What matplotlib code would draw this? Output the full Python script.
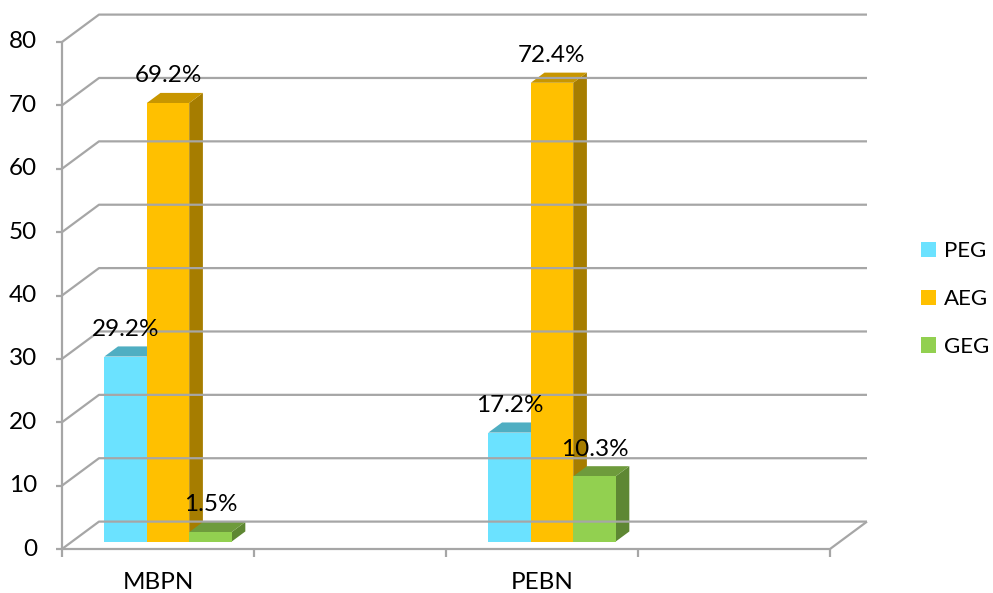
import matplotlib.pyplot as plt
from matplotlib.patches import Polygon, Patch

categories = ["MBPN", "PEBN"]
series = ["PEG", "AEG", "GEG"]
values = {
    "PEG": [29.2, 17.2],
    "AEG": [69.2, 72.4],
    "GEG": [1.5, 10.3],
}
y_ticks = [0, 10, 20, 30, 40, 50, 60, 70, 80]

# front face / top / side colours for each series
colors = {
    "PEG": ("#6BE2FF", "#4FAEC2", "#3F93A6"),
    "AEG": ("#FFC000", "#C89600", "#A67D00"),
    "GEG": ("#92D050", "#6E9B3C", "#5E8733"),
}

plt.rcParams["font.family"] = ["Lato", "DejaVu Sans"]
FS = 17.5
GRID = "#A6A6A6"

fig = plt.figure(figsize=(9.93, 5.93), dpi=100)
# front plane of the 3D box: four category slots wide, 0..80 tall
ax = fig.add_axes([62 / 993, 44 / 593, 768 / 993, 507 / 593])
ax.set_xlim(0, 4)
ax.set_ylim(0, 80)
ax.axis("off")

n_slots = 4
DX, DY = 37 / 192, 27.4 * 80 / 507   # depth offset of the back wall
f0, fd = 0.27, 0.37                  # bar front depth and bar depth (fractions)
bar_w = 0.221
slot_pos = [0.5, 2.5]


def line(xs, ys, **kw):
    ax.plot(xs, ys, color=GRID, lw=1.6, solid_capstyle="butt",
            clip_on=False, **kw)


# walls and gridlines
for v in y_ticks:
    line([0, DX, n_slots + DX], [v, v + DY, v + DY])
    line([-6 / 192, 0], [v, v])
line([0, 0], [0, y_ticks[-1]])
line([0, n_slots, n_slots + DX], [0, 0, DY])
for i in range(n_slots + 1):
    line([i, i], [0, -8 * 80 / 507])

for v in y_ticks:
    ax.text(-0.13, v, str(v), ha="right", va="center", fontsize=FS,
            clip_on=False)
for pos, cat in zip(slot_pos, categories):
    ax.text(pos, -5.3, cat, ha="center", va="center", fontsize=FS,
            clip_on=False)

# bars, drawn left to right so each front face covers the previous side
for ci, pos in enumerate(slot_pos):
    for si, name in enumerate(series):
        v = values[name][ci]
        front, top, side = colors[name]
        x0 = pos - 1.5 * bar_w + si * bar_w + f0 * DX
        y0 = f0 * DY
        x1 = x0 + bar_w
        y1 = y0 + v
        ddx, ddy = fd * DX, fd * DY
        ax.add_patch(Polygon([(x1, y0), (x1 + ddx, y0 + ddy),
                              (x1 + ddx, y1 + ddy), (x1, y1)],
                             closed=True, fc=side, ec="none", clip_on=False))
        ax.add_patch(Polygon([(x0, y1), (x1, y1), (x1 + ddx, y1 + ddy),
                              (x0 + ddx, y1 + ddy)],
                             closed=True, fc=top, ec="none", clip_on=False))
        ax.add_patch(Polygon([(x0, y0), (x1, y0), (x1, y1), (x0, y1)],
                             closed=True, fc=front, ec="none", clip_on=False))
        ax.text((x0 + x1) / 2, y1 + 4.3, f"{v}%", ha="center", va="center",
                fontsize=FS, clip_on=False, zorder=5)

handles = [Patch(fc=colors[name][0], ec="none") for name in series]
fig.legend(handles, series, loc="center left",
           bbox_to_anchor=(921 / 993, 1 - 299 / 593), frameon=False,
           fontsize=16, handlelength=0.68, handleheight=0.68,
           handletextpad=0.35, labelspacing=1.25,
           borderpad=0, borderaxespad=0)

fig.savefig("out.png", dpi=100)
